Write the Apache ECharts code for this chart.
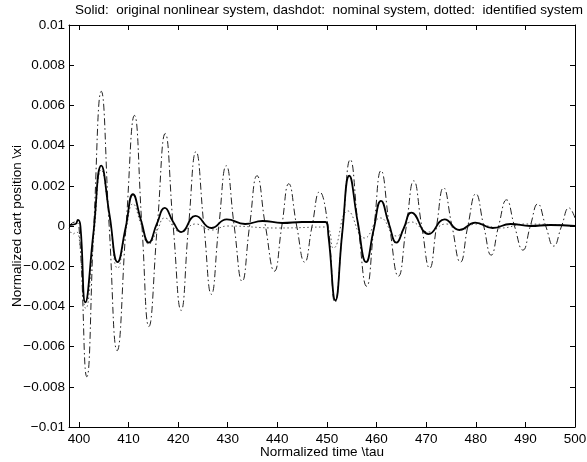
<!DOCTYPE html>
<html>
<head>
<meta charset="utf-8">
<script src="https://cdn.jsdelivr.net/npm/echarts@6/dist/echarts.min.js"></script>
<style>
  html, body { margin: 0; padding: 0; background: #fff; }
  #chart { width: 587px; height: 462px; }
</style>
</head>
<body>
<div id="chart"></div>
<script>
// tick labels
const xTicks = [400, 410, 420, 430, 440, 450, 460, 470, 480, 490, 500];
const yTicks = [-0.01, -0.008, -0.006, -0.004, -0.002, 0, 0.002, 0.004, 0.006, 0.008, 0.01];

// solid: original nonlinear system  [tau, x]
const solidData = [
  [398, 0.00005], [399.3, 0.0001], [399.8, 0.0003], [400.3, 0.0], [401.3, -0.0038],
  [402.9, -0.0004], [404.5, 0.0030], [406.2, 0.0005], [407.8, -0.0018], [409.4, -0.0001],
  [410.9, 0.00158], [412.5, 0.0003], [414.1, -0.00083], [415.7, 0.0001], [417.3, 0.0009],
  [419.0, 0.0002], [420.6, -0.0003], [423.5, 0.0005], [426.7, -0.0001], [429.8, 0.00033],
  [433.5, 0.0001], [437.0, 0.00025], [441, 0.00015], [445, 0.0002], [449.7, 0.0002],
  [450.3, -0.0005], [451.7, -0.0037], [453.1, -0.0003], [454.5, 0.0025], [456.2, 0.0002],
  [457.9, -0.0018], [459.4, -0.0002], [460.9, 0.00125], [462.5, 0.0001], [464.0, -0.00083],
  [465.5, -0.0001], [467.0, 0.00067], [470.5, -0.0004], [473.7, 0.00033], [476.7, -0.0002],
  [479.9, 0.00017], [483.4, -0.0001], [487, 0.0001], [491, 0.0], [495, 0.00005], [500, 0.0]
];

// dashdot: nominal system
const dashdotData = [
  [398, 0.0], [399.2, 0.0002], [400.0, 0.0], [401.6, -0.0075], [403.0, 0.0],
  [404.5, 0.0067], [406.1, 0.0], [407.7, -0.0062], [409.5, 0.0], [411.2, 0.0055],
  [412.7, 0.0], [414.1, -0.0050], [415.8, 0.0], [417.4, 0.0046], [419.0, 0.0],
  [420.6, -0.0042], [422.1, 0.0], [423.6, 0.0037], [425.2, 0.0], [426.7, -0.0034],
  [428.2, 0.0], [429.7, 0.0030], [431.3, 0.0], [432.9, -0.00275], [434.4, 0.0],
  [435.9, 0.0025], [437.6, 0.0], [439.4, -0.00225], [440.9, 0.0], [442.3, 0.0021],
  [443.9, 0.0], [445.5, -0.0018], [447.0, 0.0], [448.5, 0.0017], [450.2, 0.0],
  [451.6, -0.0038], [453.2, 0.0], [454.7, 0.0033], [456.3, 0.0], [458.0, -0.0030],
  [459.5, 0.0], [460.9, 0.00275], [462.6, 0.0], [464.4, -0.0025], [466.0, 0.0],
  [467.5, 0.00225], [469.1, 0.0], [470.7, -0.0021], [472.1, 0.0], [473.5, 0.0019],
  [475.2, 0.0], [476.9, -0.0018], [478.4, 0.0], [480.0, 0.0016], [481.6, 0.0],
  [483.1, -0.00145], [484.6, 0.0], [486.2, 0.0013], [487.8, 0.0], [489.5, -0.0012],
  [491.0, 0.0], [492.5, 0.0011], [494.1, 0.0], [495.7, -0.0010], [497.3, 0.0],
  [498.8, 0.0009], [500, 0.0004]
];

// dotted: identified system
const dottedData = [
  [398, -0.0001], [398.8, -0.0004], [399.5, -0.0003], [400.0, -0.0005], [401.4, -0.0041],
  [403.0, -0.0005], [404.5, 0.0028], [406.2, 0.0004], [407.8, -0.0021], [409.4, -0.0003],
  [410.9, 0.0011], [412.5, 0.0001], [414.1, -0.0009], [415.8, -0.0002], [417.3, 0.0004],
  [420.5, -0.0003], [423.5, 0.0001], [426.7, -0.0002], [430, 0.0], [440, -0.0001],
  [449.7, -0.00005], [451.3, -0.0011], [454.2, 0.00075], [457.6, -0.0006], [460.8, 0.0004],
  [464.0, -0.0005], [467.0, 0.0002], [470.5, -0.0003], [474, 0.0001], [477, -0.0002],
  [480, 0.0001], [485, -0.0001], [490, 0.0001], [500, 0.0]
];

const font = 'Liberation Sans, Arial, Helvetica, sans-serif';
const fs = 13.5;

function yFmt(v) {
  const r = parseFloat(v.toFixed(4));
  if (r === 0) return '0';
  return String(r).replace('-', '\u2212');
}

const axisLine = { show: true, onZero: false, lineStyle: { color: '#000', width: 1 } };
const tick = { show: true, inside: true, length: 5, lineStyle: { color: '#000' } };

const chart = echarts.init(document.getElementById('chart'));
chart.setOption({
  animation: false,
  backgroundColor: '#fff',
  title: {
    text: 'Solid:  original nonlinear system, dashdot:  nominal system, dotted:  identified system',
    left: 324, top: -2, textAlign: 'center',
    textStyle: { fontFamily: font, fontSize: fs, fontWeight: 'normal', color: '#000' }
  },
  grid: { left: 69, right: 12, top: 25, bottom: 35, containLabel: false, outerBoundsMode: 'none' },
  xAxis: [{
    type: 'value', min: 398, max: 500,
    axisLine: axisLine,
    axisTick: Object.assign({ customValues: xTicks }, tick),
    splitLine: { show: false },
    axisLabel: { customValues: xTicks, margin: 5, color: '#000', fontFamily: font, fontSize: fs },
    name: 'Normalized time \\tau', nameLocation: 'middle', nameGap: 18, nameMoveOverlap: false,
    nameTextStyle: { fontFamily: font, fontSize: fs, color: '#000' }
  }, {
    type: 'value', min: 398, max: 500, position: 'top',
    axisLine: axisLine,
    axisTick: Object.assign({ customValues: xTicks }, tick),
    splitLine: { show: false },
    axisLabel: { show: false }
  }],
  yAxis: [{
    type: 'value', min: yTicks[0], max: yTicks[yTicks.length - 1], interval: 0.002,
    axisLine: axisLine, axisTick: tick,
    splitLine: { show: false },
    axisLabel: { formatter: yFmt, margin: 4, color: '#000', fontFamily: font, fontSize: fs },
    name: 'Normalized cart position \\xi', nameLocation: 'middle', nameGap: 45, nameMoveOverlap: false,
    nameTextStyle: { fontFamily: font, fontSize: fs, color: '#000' }
  }, {
    type: 'value', min: yTicks[0], max: yTicks[yTicks.length - 1], interval: 0.002, position: 'right',
    axisLine: axisLine, axisTick: tick,
    splitLine: { show: false },
    axisLabel: { show: false }
  }],
  series: [{
    name: 'nominal', type: 'line', data: dashdotData, showSymbol: false, smooth: 0.5,
    lineStyle: { color: '#222', width: 1, type: [7, 3, 1.5, 3] }
  }, {
    name: 'identified', type: 'line', data: dottedData, showSymbol: false, smooth: 0.5,
    lineStyle: { color: '#555', width: 1, type: [1.5, 2.5] }
  }, {
    name: 'original', type: 'line', data: solidData, showSymbol: false, smooth: 0.5,
    lineStyle: { color: '#000', width: 1.8 }
  }]
});
</script>
</body>
</html>
